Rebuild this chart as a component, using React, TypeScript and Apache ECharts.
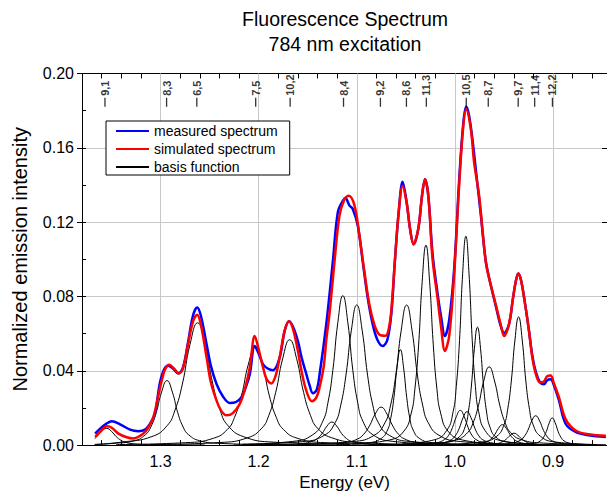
import { useEffect, useRef } from "react";
import * as echarts from "echarts";

const FONT = '"Liberation Sans", Arial, Helvetica, sans-serif';

const measured: number[][] = [
  [1.3666,0.0062],[1.3615,0.0089],[1.3554,0.0114],[1.3496,0.0128],[1.3412,0.0112],[1.3310,0.0083],[1.3226,0.0075],[1.3158,0.0083],[1.3107,0.0115],[1.3056,0.0169],[1.3030,0.0255],[1.3005,0.0338],[1.2964,0.0407],[1.2921,0.0427],[1.2873,0.0412],[1.2819,0.0386],[1.2771,0.0418],[1.2720,0.0551],[1.2670,0.0695],[1.2626,0.0741],[1.2588,0.0695],[1.2530,0.0542],[1.2487,0.0428],[1.2429,0.0329],[1.2365,0.0263],[1.2294,0.0227],[1.2233,0.0231],[1.2175,0.0258],[1.2131,0.0311],[1.2090,0.0382],[1.2040,0.0533],[1.1999,0.0492],[1.1955,0.0435],[1.1908,0.0412],[1.1854,0.0403],[1.1786,0.0471],[1.1735,0.0615],[1.1691,0.0667],[1.1653,0.0641],[1.1600,0.0560],[1.1562,0.0471],[1.1514,0.0382],[1.1481,0.0322],[1.1447,0.0279],[1.1410,0.0295],[1.1379,0.0380],[1.1311,0.0649],[1.1244,0.0987],[1.1193,0.1253],[1.1142,0.1315],[1.1115,0.1328],[1.1074,0.1289],[1.1041,0.1271],[1.0990,0.1182],[1.0939,0.0987],[1.0888,0.0791],[1.0837,0.0649],[1.0790,0.0567],[1.0736,0.0533],[1.0688,0.0567],[1.0647,0.0711],[1.0612,0.0988],[1.0573,0.1253],[1.0533,0.1417],[1.0492,0.1307],[1.0457,0.1164],[1.0421,0.1081],[1.0373,0.1164],[1.0335,0.1342],[1.0305,0.1431],[1.0271,0.1342],[1.0228,0.1031],[1.0177,0.0818],[1.0142,0.0695],[1.0102,0.0587],[1.0058,0.0674],[1.0007,0.0951],[0.9956,0.1431],[0.9916,0.1724],[0.9885,0.1822],[0.9855,0.1772],[0.9821,0.1644],[0.9787,0.1484],[0.9736,0.1240],[0.9685,0.0988],[0.9634,0.0860],[0.9583,0.0748],[0.9533,0.0641],[0.9499,0.0604],[0.9448,0.0652],[0.9408,0.0791],[0.9377,0.0887],[0.9354,0.0924],[0.9326,0.0887],[0.9286,0.0764],[0.9245,0.0615],[0.9211,0.0481],[0.9174,0.0391],[0.9133,0.0338],[0.9092,0.0327],[0.9062,0.0348],[0.9024,0.0354],[0.8991,0.0322],[0.8940,0.0242],[0.8872,0.0115],[0.8770,0.0071],[0.8635,0.0053],[0.8462,0.0044],
];

const simulated: number[][] = [
  [1.3666,0.0044],[1.3615,0.0071],[1.3547,0.0101],[1.3493,0.0092],[1.3429,0.0062],[1.3344,0.0042],[1.3280,0.0036],[1.3175,0.0062],[1.3127,0.0092],[1.3073,0.0151],[1.3030,0.0247],[1.2988,0.0347],[1.2954,0.0407],[1.2911,0.0432],[1.2863,0.0412],[1.2812,0.0386],[1.2771,0.0412],[1.2720,0.0540],[1.2670,0.0663],[1.2626,0.0702],[1.2588,0.0647],[1.2530,0.0471],[1.2487,0.0338],[1.2429,0.0240],[1.2385,0.0188],[1.2327,0.0160],[1.2263,0.0172],[1.2192,0.0222],[1.2141,0.0300],[1.2090,0.0418],[1.2040,0.0587],[1.1999,0.0514],[1.1955,0.0418],[1.1918,0.0354],[1.1870,0.0332],[1.1826,0.0375],[1.1786,0.0471],[1.1735,0.0615],[1.1691,0.0667],[1.1653,0.0631],[1.1600,0.0508],[1.1562,0.0396],[1.1514,0.0293],[1.1457,0.0236],[1.1410,0.0258],[1.1379,0.0311],[1.1338,0.0418],[1.1308,0.0578],[1.1277,0.0711],[1.1227,0.0987],[1.1176,0.1235],[1.1125,0.1324],[1.1081,0.1342],[1.1023,0.1289],[1.0973,0.1129],[1.0922,0.0933],[1.0871,0.0755],[1.0820,0.0647],[1.0769,0.0594],[1.0708,0.0588],[1.0668,0.0642],[1.0642,0.0764],[1.0612,0.0987],[1.0573,0.1253],[1.0533,0.1395],[1.0492,0.1307],[1.0457,0.1164],[1.0421,0.1081],[1.0373,0.1164],[1.0335,0.1342],[1.0305,0.1431],[1.0271,0.1342],[1.0228,0.1004],[1.0177,0.0791],[1.0142,0.0641],[1.0102,0.0507],[1.0058,0.0588],[1.0007,0.0924],[0.9956,0.1404],[0.9916,0.1708],[0.9885,0.1807],[0.9837,0.1698],[0.9804,0.1520],[0.9753,0.1342],[0.9720,0.1164],[0.9685,0.0987],[0.9651,0.0898],[0.9583,0.0755],[0.9533,0.0649],[0.9499,0.0587],[0.9448,0.0652],[0.9408,0.0791],[0.9377,0.0887],[0.9354,0.0924],[0.9326,0.0887],[0.9286,0.0764],[0.9245,0.0615],[0.9211,0.0471],[0.9174,0.0380],[0.9133,0.0338],[0.9092,0.0343],[0.9062,0.0370],[0.9024,0.0375],[0.8991,0.0332],[0.8940,0.0258],[0.8872,0.0140],[0.8770,0.0079],[0.8635,0.0058],[0.8462,0.0050],
];

const basis91 = [[1.367,0.0035],[1.365,0.0045],[1.36,0.0074],[1.355,0.009],[1.35,0.0074],[1.345,0.0045],[1.34,0.0025],[1.335,0.0014],[1.325,0.0006],[1.305,0.0002],[1.255,0.0001]];
const basis83 = [[1.367,0.0003],[1.3484,0.0009],[1.3264,0.0024],[1.3154,0.0056],[1.3099,0.0097],[1.3044,0.0174],[1.2989,0.0285],[1.2934,0.0347],[1.2879,0.0285],[1.2824,0.0174],[1.2769,0.0097],[1.2714,0.0056],[1.2604,0.0024],[1.2384,0.0009],[1.1834,0.0002]];
const basis65 = [[1.367,0.0004],[1.3397,0.0016],[1.3087,0.0046],[1.2932,0.0105],[1.2855,0.0184],[1.2777,0.0329],[1.27,0.054],[1.2622,0.0658],[1.2545,0.054],[1.2467,0.0329],[1.239,0.0184],[1.2312,0.0105],[1.2157,0.0046],[1.1847,0.0016],[1.1072,0.0004]];
const basis75 = [[1.3453,0.0003],[1.2743,0.0013],[1.2459,0.0037],[1.2317,0.0085],[1.2246,0.0149],[1.2175,0.0266],[1.2104,0.0436],[1.2033,0.0532],[1.1962,0.0436],[1.1891,0.0266],[1.182,0.0149],[1.1749,0.0085],[1.1607,0.0037],[1.1323,0.0013],[1.0613,0.0003]];
const basis102 = [[1.3104,0.0003],[1.2394,0.0014],[1.211,0.004],[1.1968,0.0091],[1.1897,0.0159],[1.1826,0.0284],[1.1755,0.0465],[1.1684,0.0567],[1.1613,0.0465],[1.1542,0.0284],[1.1471,0.0159],[1.14,0.0091],[1.1258,0.004],[1.0974,0.0014],[1.0264,0.0003]];
const basisA = [[1.2254,0.0001],[1.1754,0.0003],[1.1554,0.0009],[1.1454,0.002],[1.1404,0.0035],[1.1354,0.0062],[1.1304,0.0102],[1.1254,0.0124],[1.1204,0.0102],[1.1154,0.0062],[1.1104,0.0035],[1.1054,0.002],[1.0954,0.0009],[1.0754,0.0003],[1.0254,0.0001]];
const basis84 = [[1.2162,0.0005],[1.1652,0.002],[1.1448,0.0056],[1.1346,0.0129],[1.1295,0.0225],[1.1244,0.0402],[1.1193,0.0659],[1.1142,0.0804],[1.1091,0.0659],[1.104,0.0402],[1.0989,0.0225],[1.0938,0.0129],[1.0836,0.0056],[1.0632,0.002],[1.0122,0.0005]];
const basisB = [[1.21,0.0005],[1.155,0.0019],[1.133,0.0053],[1.122,0.0121],[1.1165,0.0211],[1.111,0.0377],[1.1055,0.0618],[1.1,0.0754],[1.0945,0.0618],[1.089,0.0377],[1.0835,0.0211],[1.078,0.0121],[1.067,0.0053],[1.045,0.0019],[0.99,0.0005]];
const basis92 = [[1.1952,0.0001],[1.1352,0.0005],[1.1112,0.0014],[1.0992,0.0033],[1.0932,0.0057],[1.0872,0.0102],[1.0812,0.0167],[1.0752,0.0204],[1.0692,0.0167],[1.0632,0.0102],[1.0572,0.0057],[1.0512,0.0033],[1.0392,0.0014],[1.0152,0.0005],[0.9552,0.0001]];
const basisC = [[1.1206,0.0003],[1.0881,0.0013],[1.0751,0.0036],[1.0686,0.0082],[1.0654,0.0144],[1.0621,0.0257],[1.0589,0.0421],[1.0556,0.0514],[1.0524,0.0421],[1.0491,0.0257],[1.0459,0.0144],[1.0426,0.0082],[1.0361,0.0036],[1.0231,0.0013],[0.9906,0.0003]];
const basis86 = [[1.1592,0.0005],[1.1042,0.0019],[1.0822,0.0053],[1.0712,0.0121],[1.0657,0.0211],[1.0602,0.0377],[1.0547,0.0618],[1.0492,0.0754],[1.0437,0.0618],[1.0382,0.0377],[1.0327,0.0211],[1.0272,0.0121],[1.0162,0.0053],[0.9942,0.0019],[0.9392,0.0005]];
const basis113 = [[1.1045,0.0006],[1.067,0.0027],[1.052,0.0075],[1.0445,0.0172],[1.0408,0.0301],[1.037,0.0538],[1.0333,0.0882],[1.0295,0.1076],[1.0258,0.0882],[1.022,0.0538],[1.0183,0.0301],[1.0145,0.0172],[1.007,0.0075],[0.992,0.0027],[0.9545,0.0006]];
const basisD = [[1.0745,0.0001],[1.0345,0.0005],[1.0185,0.0013],[1.0105,0.003],[1.0065,0.0052],[1.0025,0.0094],[0.9985,0.0153],[0.9945,0.0187],[0.9905,0.0153],[0.9865,0.0094],[0.9825,0.0052],[0.9785,0.003],[0.9705,0.0013],[0.9545,0.0005],[0.9145,0.0001]];
const basis105 = [[1.0538,0.0007],[1.0213,0.0028],[1.0083,0.0079],[1.0018,0.018],[0.9986,0.0315],[0.9953,0.0562],[0.9921,0.0922],[0.9888,0.1124],[0.9856,0.0922],[0.9823,0.0562],[0.9791,0.0315],[0.9758,0.018],[0.9693,0.0079],[0.9563,0.0028],[0.9238,0.0007]];
const basisE = [[1.0676,0.0001],[1.0276,0.0005],[1.0116,0.0013],[1.0036,0.0029],[0.9996,0.005],[0.9956,0.009],[0.9916,0.0148],[0.9876,0.018],[0.9836,0.0148],[0.9796,0.009],[0.9756,0.005],[0.9716,0.0029],[0.9636,0.0013],[0.9476,0.0005],[0.9076,0.0001]];
const basisF = [[1.039,0.0004],[1.008,0.0016],[0.9956,0.0044],[0.9894,0.0102],[0.9863,0.0178],[0.9832,0.0318],[0.9801,0.0521],[0.977,0.0635],[0.9739,0.0521],[0.9708,0.0318],[0.9677,0.0178],[0.9646,0.0102],[0.9584,0.0044],[0.946,0.0016],[0.915,0.0004]];
const basis87 = [[1.0751,0.0003],[1.0201,0.0011],[0.9981,0.0029],[0.9871,0.0067],[0.9816,0.0118],[0.9761,0.0211],[0.9706,0.0345],[0.9651,0.0421],[0.9596,0.0345],[0.9541,0.0211],[0.9486,0.0118],[0.9431,0.0067],[0.9321,0.0029],[0.9101,0.0011],[0.8551,0.0003]];
const basisG = [[1.0316,0.0001],[0.9916,0.0003],[0.9756,0.0008],[0.9676,0.0018],[0.9636,0.0031],[0.9596,0.0055],[0.9556,0.009],[0.9516,0.011],[0.9476,0.009],[0.9436,0.0055],[0.9396,0.0031],[0.9356,0.0018],[0.9276,0.0008],[0.9116,0.0003],[0.8716,0.0001]];
const basisH = [[1.0197,0],[0.9797,0.0002],[0.9637,0.0004],[0.9557,0.001],[0.9517,0.0018],[0.9477,0.0032],[0.9437,0.0052],[0.9397,0.0064],[0.9357,0.0052],[0.9317,0.0032],[0.9277,0.0018],[0.9237,0.001],[0.9157,0.0004],[0.8997,0.0002],[0.8597,0]];
const basis97 = [[1.0091,0.0004],[0.9721,0.0017],[0.9573,0.0048],[0.9499,0.011],[0.9462,0.0193],[0.9425,0.0345],[0.9388,0.0566],[0.9351,0.069],[0.9314,0.0566],[0.9277,0.0345],[0.924,0.0193],[0.9203,0.011],[0.9129,0.0048],[0.8981,0.0017],[0.8611,0.0004]];
const basis114 = [[0.9977,0.0001],[0.9577,0.0004],[0.9417,0.0011],[0.9337,0.0025],[0.9297,0.0044],[0.9257,0.0079],[0.9217,0.013],[0.9177,0.0158],[0.9137,0.013],[0.9097,0.0079],[0.9057,0.0044],[0.9017,0.0025],[0.8937,0.0011],[0.8777,0.0004],[0.8462,0.0001]];
const basis122 = [[0.9608,0.0001],[0.9308,0.0004],[0.9188,0.001],[0.9128,0.0023],[0.9098,0.0041],[0.9068,0.0073],[0.9038,0.012],[0.9008,0.0146],[0.8978,0.012],[0.8948,0.0073],[0.8918,0.0041],[0.8888,0.0023],[0.8828,0.001],[0.8708,0.0004],[0.8462,0.0001]];

const basisFunctions = [
  basis91, basis83, basis65, basis75, basis102, basisA, basis84, basisB, basis92, basisC, basis86,
  basis113, basisD, basis105, basisE, basisF, basis87, basisG, basisH, basis97, basis114, basis122,
];

const peakLabels = ["9,1", "8,3", "6,5", "7,5", "10,2", "8,4", "9,2", "8,6", "11,3", "10,5", "8,7", "9,7", "11,4", "12,2"];
const peakEnergies = [1.3566, 1.2938, 1.2630, 1.2030, 1.1679, 1.1135, 1.0759, 1.0494, 1.0291, 0.9884, 0.9660, 0.9355, 0.9187, 0.9006];
const peakMarkLevel = 0.1845;

const xTickValues = [0.86, 0.88, 0.9, 0.92, 0.94, 0.96, 0.98, 1.0, 1.02, 1.04, 1.06, 1.08, 1.1, 1.12, 1.14, 1.16, 1.18, 1.2, 1.22, 1.24, 1.26, 1.28, 1.3, 1.32, 1.34, 1.36, 1.38];
const xLabelValues = [0.9, 1.0, 1.1, 1.2, 1.3];

const X_MIN = 0.845;
const X_MAX = 1.38;

export default function App() {
  const ref = useRef<HTMLDivElement>(null);

  useEffect(() => {
    if (!ref.current) return;
    const chart = echarts.init(ref.current, null, { renderer: "svg" });

    const basisSeries = basisFunctions.map((d, i) => ({
      type: "line",
      name: "basis function",
      data: d,
      xAxisIndex: 0,
      yAxisIndex: 0,
      symbol: "none",
      smooth: 0.5,
      lineStyle: { color: "#000", width: 1 },
      itemStyle: { color: "#000" },
      z: 2,
      silent: true,
      ...(i === 0
        ? {
            markLine: {
              silent: true,
              symbol: "none",
              z: 1,
              label: { show: false },
              lineStyle: { color: "#c8c8c8", type: "solid", width: 1 },
              data: xLabelValues.map((v) => ({ xAxis: v })),
            },
          }
        : {}),
    }));

    const option: any = {
      animation: false,
      textStyle: { fontFamily: FONT },
      graphic: [
        {
          type: "text",
          x: 345,
          y: 19,
          style: {
            text: "Fluorescence Spectrum",
            fill: "#000",
            font: `19.5px ${FONT}`,
            textAlign: "center",
            textVerticalAlign: "middle",
          },
        },
        {
          type: "text",
          x: 345,
          y: 44,
          style: {
            text: "784 nm excitation",
            fill: "#000",
            font: `19.5px ${FONT}`,
            textAlign: "center",
            textVerticalAlign: "middle",
          },
        },
      ],
      legend: {
        data: ["measured spectrum", "simulated spectrum", "basis function"],
        orient: "vertical",
        left: 106,
        top: 121,
        backgroundColor: "#fff",
        borderColor: "#000",
        borderWidth: 1,
        borderRadius: 0,
        padding: [3, 12, 1, 9],
        itemWidth: 33,
        itemHeight: 14,
        itemGap: 4,
        selectedMode: false,
        itemStyle: { opacity: 0, color: "transparent", borderWidth: 0 },
        textStyle: { fontSize: 14, color: "#000", fontFamily: FONT },
      },
      grid: { left: 82, right: -1, top: 73.5, bottom: 47.5, containLabel: false },
      xAxis: [
        {
          type: "value",
          position: "bottom",
          min: X_MIN,
          max: X_MAX,
          inverse: true,
          axisLine: { show: true, onZero: false, lineStyle: { color: "#000", width: 1 } },
          axisTick: { show: true, inside: true, length: 5, customValues: xTickValues, lineStyle: { color: "#000" } },
          axisLabel: {
            show: true,
            customValues: xLabelValues,
            formatter: (v: number) => v.toFixed(1),
            fontSize: 16,
            color: "#000",
            margin: 8,
            fontFamily: FONT,
          },
          splitLine: { show: false },
          name: "Energy (eV)",
          nameLocation: "middle",
          nameGap: 27,
          nameTextStyle: { fontSize: 17, color: "#000", fontFamily: FONT },
        },
        {
          type: "value",
          position: "top",
          min: X_MIN,
          max: X_MAX,
          inverse: true,
          axisLine: { show: true, onZero: false, lineStyle: { color: "#000", width: 1 } },
          axisTick: { show: true, inside: true, length: 5, customValues: xTickValues, lineStyle: { color: "#000" } },
          axisLabel: { show: false },
          splitLine: { show: false },
        },
      ],
      yAxis: [
        {
          type: "value",
          position: "left",
          min: 0,
          max: 0.2,
          interval: 0.04,
          axisLine: { show: true, onZero: false, lineStyle: { color: "#000", width: 1 } },
          axisTick: { show: true, inside: false, length: 5, lineStyle: { color: "#000" } },
          axisLabel: {
            formatter: (v: number) => v.toFixed(2),
            fontSize: 16,
            color: "#000",
            margin: 8,
            fontFamily: FONT,
          },
          splitLine: { show: true, lineStyle: { color: "#c8c8c8", width: 1 } },
          name: "Normalized emission intensity",
          nameLocation: "middle",
          nameRotate: 90,
          nameGap: 52,
          nameTextStyle: { fontSize: 20, color: "#000", fontFamily: FONT },
        },
        {
          type: "value",
          position: "right",
          min: 0,
          max: 0.2,
          interval: 0.04,
          axisLine: { show: true, onZero: false, lineStyle: { color: "#000", width: 1 } },
          axisTick: { show: true, inside: true, length: 5, lineStyle: { color: "#000" } },
          axisLabel: { show: false },
          splitLine: { show: false },
        },
        {
          type: "value",
          position: "left",
          offset: 0,
          min: 0,
          max: 0.2,
          interval: 0.02,
          axisLine: { show: false },
          axisTick: { show: true, inside: true, length: 4, lineStyle: { color: "#000" } },
          axisLabel: { show: false },
          splitLine: { show: false },
        },
      ],
      series: [
        ...basisSeries,
        {
          type: "line",
          name: "measured spectrum",
          data: measured,
          xAxisIndex: 0,
          yAxisIndex: 0,
          symbol: "none",
          smooth: 0.35,
          lineStyle: { color: "#0000ff", width: 2.5 },
          itemStyle: { color: "#0000ff" },
          z: 3,
          silent: true,
        },
        {
          type: "line",
          name: "simulated spectrum",
          data: simulated,
          xAxisIndex: 0,
          yAxisIndex: 0,
          symbol: "none",
          smooth: 0.35,
          lineStyle: { color: "#ff0000", width: 2.5 },
          itemStyle: { color: "#ff0000" },
          z: 4,
          silent: true,
        },
        {
          type: "scatter",
          name: "peak labels",
          xAxisIndex: 0,
          yAxisIndex: 0,
          symbol: "rect",
          symbolSize: [1.3, 9],
          itemStyle: { color: "#000" },
          silent: true,
          z: 5,
          data: peakEnergies.map((e, i) => ({ value: [e, peakMarkLevel], name: peakLabels[i] })),
          label: {
            show: true,
            formatter: "{b}",
            rotate: 90,
            position: "top",
            distance: 2,
            align: "left",
            verticalAlign: "middle",
            fontSize: 11,
            fontWeight: "bold",
            color: "#000",
            fontFamily: FONT,
          },
        },
      ],
    };

    chart.setOption(option);
    return () => chart.dispose();
  }, []);

  return (
    <div
      ref={ref}
      style={{ position: "fixed", left: 0, top: 0, width: 607, height: 496, background: "#fff" }}
    />
  );
}
